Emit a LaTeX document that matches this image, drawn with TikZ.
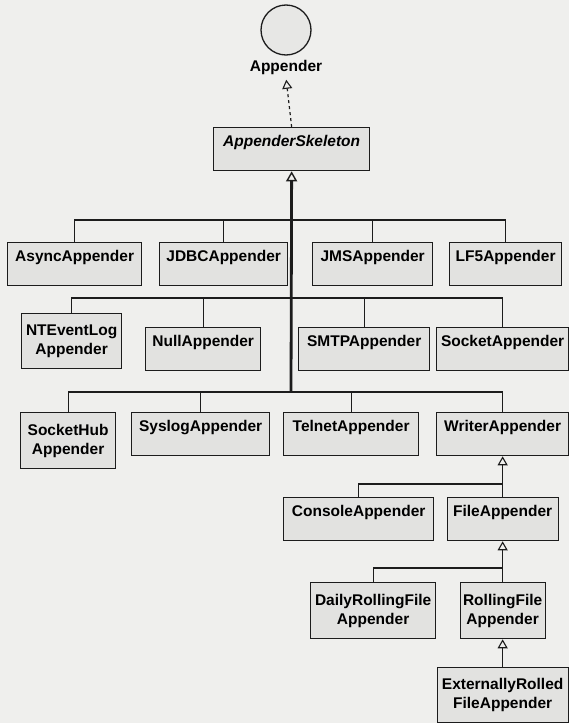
\documentclass[tikz,border=0pt]{standalone}
\usepackage{fontspec}
\setmainfont{Liberation Sans}
\usetikzlibrary{arrows.meta}
\definecolor{paper}{HTML}{EFEFED}
\definecolor{boxfill}{HTML}{E2E2E0}
\definecolor{ink}{HTML}{1C1C1C}

\begin{document}
\begin{tikzpicture}[x=1pt, y=-1pt,
  font=\bfseries\fontsize{15.5}{19}\selectfont,
  cbox/.style={draw=ink, fill=boxfill, line width=1.3pt, rectangle, anchor=north west,
    inner sep=0pt, minimum width=#1, text height=19pt, text depth=24pt},
  cboxii/.style={draw=ink, fill=boxfill, line width=1.3pt, rectangle, anchor=north west,
    inner sep=0pt, minimum width=#1, minimum height=55pt, align=center},
  link/.style={draw=ink, line width=1.2pt},
  gen/.style={link, -{Triangle[open, length=9pt, width=10pt, line width=1.1pt]}}]
  % page
  \useasboundingbox (0,0) rectangle (569,723);
  \fill[paper] (0,0) rectangle (569,723);
  % interface
  \node[draw=ink, fill=boxfill!60!paper, line width=1.3pt, circle, minimum size=50pt, inner sep=0pt] (iface) at (286,30) {};
  \node (lbl) at (286,67) {Appender};
  % abstract base
  \node[cbox=156pt, font=\bfseries\itshape\fontsize{15.5}{19}\selectfont] (skel) at (213,127) {AppenderSkeleton};
  \draw[gen, dashed, shorten >=2pt] (skel.north) -- (lbl.south);
  % row 1
  \node[cbox=134pt] (async) at (7,242) {AsyncAppender};
  \node[cbox=128pt] (jdbc) at (159,242) {JDBCAppender};
  \node[cbox=120pt] (jms) at (312,242) {JMSAppender};
  \node[cbox=112pt] (lf5) at (449,242) {LF5Appender};
  % row 2
  \node[cboxii=100pt] (ntevent) at (21,313) {NTEventLog\\Appender};
  \node[cbox=115pt] (null) at (145,327) {NullAppender};
  \node[cbox=131pt] (smtp) at (298,327) {SMTPAppender};
  \node[cbox=132pt] (socket) at (436,327) {SocketAppender};
  % row 3
  \node[cboxii=95pt, minimum height=56pt] (sockethub) at (20,412) {SocketHub\\Appender};
  \node[cbox=138pt] (syslog) at (131,412) {SyslogAppender};
  \node[cbox=135pt] (telnet) at (283,412) {TelnetAppender};
  \node[cbox=132pt] (writer) at (436,412) {WriterAppender};
  % writer subclasses
  \node[cbox=150pt] (console) at (283,497) {ConsoleAppender};
  \node[cbox=111pt] (file) at (446.5,497) {FileAppender};
  \node[cboxii=125pt, minimum height=56pt] (daily) at (310,582) {DailyRollingFile\\Appender};
  \node[cboxii=85pt, minimum height=56pt] (rolling) at (459.5,582) {RollingFile\\Appender};
  \node[cboxii=131pt] (external) at (436.5,667) {ExternallyRolled\\FileAppender};
  % junctions
  \coordinate (j1) at (291,220);
  \coordinate (j2) at (291,298);
  \coordinate (j3) at (291,392);
  \coordinate (j4) at (502,484);
  \coordinate (j5) at (502,568);
  % trunk
  \draw[draw=ink, line width=2.8pt, -{Triangle[open, length=10pt, width=11pt, line width=1.4pt]}] (j3) -- (skel.south);
  \foreach \c in {async, jdbc, jms, lf5}
    \draw[link] (\c.north) |- (j1);
  \foreach \c in {ntevent, null, smtp, socket}
    \draw[link] (\c.north) |- (j2);
  \foreach \c in {sockethub, syslog, telnet, writer}
    \draw[link] (\c.north) |- (j3);
  % writer branch
  \draw[gen] (file.north) -- (writer.south);
  \draw[link] (console.north) |- (j4);
  \draw[gen] (rolling.north) -- (file.south);
  \draw[link] (daily.north) |- (j5);
  \draw[gen] (external.north) -- (rolling.south);
\end{tikzpicture}
\end{document}
